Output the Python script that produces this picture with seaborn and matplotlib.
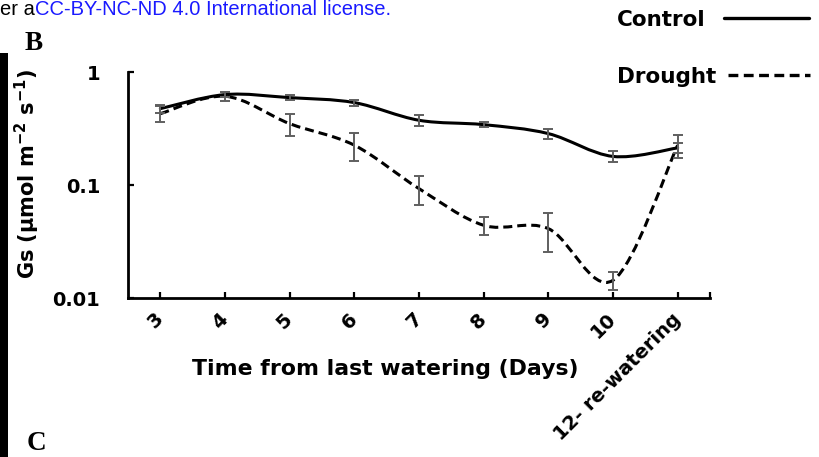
import numpy as np
import matplotlib
matplotlib.use("Agg")
import matplotlib.pyplot as plt
import seaborn as sns
from matplotlib.path import Path
from matplotlib.patches import PathPatch, Rectangle
from matplotlib.lines import Line2D
from matplotlib.ticker import NullLocator, FixedLocator

# ---------------- data ----------------
days = ["3", "4", "5", "6", "7", "8", "9", "10", "12- re-watering"]
control_mean = [0.474, 0.631, 0.593, 0.536, 0.374, 0.342, 0.285, 0.179, 0.213]
control_se = [0.037, 0.035, 0.030, 0.034, 0.040, 0.018, 0.031, 0.020, 0.022]
drought_mean = [0.428, 0.610, 0.349, 0.225, 0.0929, 0.0440, 0.0411, 0.01435, 0.225]
drought_se = [0.070, 0.055, 0.078, 0.062, 0.027, 0.0078, 0.0155, 0.0026, 0.052]
yticks = [0.01, 0.1, 1]
ytick_labels = ["0.01", "0.1", "1"]
series_names = ["Control", "Drought"]

# ---------------- style ----------------
sns.set_theme(style="ticks")
plt.rcParams["font.family"] = ["DejaVu Sans"]
plt.rcParams["mathtext.fontset"] = "dejavusans"
plt.rcParams["mathtext.default"] = "bf"
for k in ("text.color", "axes.labelcolor", "xtick.color", "ytick.color", "axes.edgecolor"):
    plt.rcParams[k] = "black"

W, H = 819, 457
fig = plt.figure(figsize=(W / 100, H / 100), dpi=100)
fig.patch.set_facecolor("white")

ax_l, ax_r, ax_t, ax_b = 128, 710, 72, 298
ax = fig.add_axes([ax_l / W, 1 - ax_b / H, (ax_r - ax_l) / W, (ax_b - ax_t) / H])
ax.set_facecolor("white")

x = np.arange(len(days))


def smooth_path(xs, ys):
    """Excel-like smoothed line: cubic Bezier segments (Catmull-Rom) in log space."""
    P = np.column_stack([np.asarray(xs, float), np.log10(np.asarray(ys, float))])
    n = len(P)
    verts = [P[0]]
    codes = [Path.MOVETO]
    for i in range(n - 1):
        p0 = P[i - 1] if i > 0 else P[i]
        p1, p2 = P[i], P[i + 1]
        p3 = P[i + 2] if i + 2 < n else P[i + 1]
        verts += [p1 + (p2 - p0) / 6.0, p2 - (p3 - p1) / 6.0, p2]
        codes += [Path.CURVE4] * 3
    verts = np.array(verts)
    verts[:, 1] = 10 ** verts[:, 1]
    return Path(verts, codes)


lw = 2.2
dash = (0, (2.95, 1.64))
ax.add_patch(PathPatch(smooth_path(x, control_mean), fill=False, edgecolor="black",
                       linewidth=lw, zorder=2, capstyle="round"))
ax.add_patch(PathPatch(smooth_path(x, drought_mean), fill=False, edgecolor="black",
                       linewidth=lw, linestyle=dash, zorder=2))

err_kw = dict(fmt="none", ecolor="#5f5f5f", elinewidth=1.4, capsize=3.8, capthick=1.4, zorder=3)
ax.errorbar(x, control_mean, yerr=control_se, **err_kw)
ax.errorbar(x, drought_mean, yerr=drought_se, **err_kw)

# ---------------- axes ----------------
ax.set_yscale("log")
ax.set_ylim(0.01, 1)
ax.set_xlim(-0.5, len(days) - 0.5)
ax.yaxis.set_major_locator(FixedLocator(yticks))
ax.set_yticklabels(ytick_labels, fontsize=14, fontweight="bold")
ax.yaxis.set_minor_locator(NullLocator())
ax.set_xticks(list(x) + [len(days) - 0.5])
ax.set_xticklabels(days + [""], fontsize=14, fontweight="bold", rotation=45,
                   ha="right", va="center", rotation_mode="anchor")
ax.tick_params(axis="both", direction="in", length=4.5, width=1.6, color="black")
ax.tick_params(axis="x", pad=13)
ax.tick_params(axis="y", pad=20)
sns.despine(ax=ax)
for s in ("left", "bottom"):
    ax.spines[s].set_linewidth(2.0)
    ax.spines[s].set_color("black")
ax.grid(False)

ax.set_xlabel("Time from last watering (Days)", fontsize=15.8, fontweight="bold", va="center")
ax.xaxis.set_label_coords(0.4425, -0.314)
ax.set_ylabel("Gs (µmol m$^{-2}$ s$^{-1}$)", fontsize=15, fontweight="bold", va="center")
ax.yaxis.set_label_coords(-0.1727, 0.549)

# ---------------- legend (one entry per row, text left, line right) ----------------
handles = [Line2D([], [], color="black", lw=2.4),
           Line2D([], [], color="black", lw=2.4, linestyle=dash)]
row_y = [20, 77]
pads = [0.84, 0.56]
lens = [3.95, 3.8]
for h, name, yy, pd_, ln in zip(handles, series_names, row_y, pads, lens):
    fig.legend([h], [name], loc="center left", bbox_to_anchor=(617 / W, 1 - yy / H),
               markerfirst=False, frameon=False, prop={"weight": "bold", "size": 15.5},
               handlelength=ln, handletextpad=pd_, borderpad=0, borderaxespad=0)

# ---------------- page decorations ----------------
t1 = fig.text(0, 1 - 15 / H, "er a", fontsize=14.5, family="Liberation Sans",
              color="black", va="baseline", ha="left")
ax.annotate("CC-BY-NC-ND 4.0 International license.", xy=(1, 0), xycoords=t1,
            fontsize=14.5, family="Liberation Sans", color="#1a1aff",
            ha="left", va="bottom", annotation_clip=False)
fig.text(25 / W, 1 - 50 / H, "B", fontsize=19.5, family="Liberation Serif",
         fontweight="bold", va="baseline", ha="left")
fig.text(27 / W, 1 - 450 / H, "C", fontsize=19.5, family="Liberation Serif",
         fontweight="bold", va="baseline", ha="left")
fig.add_artist(Rectangle((0, 0), 8 / W, (H - 53) / H, transform=fig.transFigure,
                         facecolor="black", edgecolor="none"))

fig.savefig("out.png", dpi=100, facecolor="white")
